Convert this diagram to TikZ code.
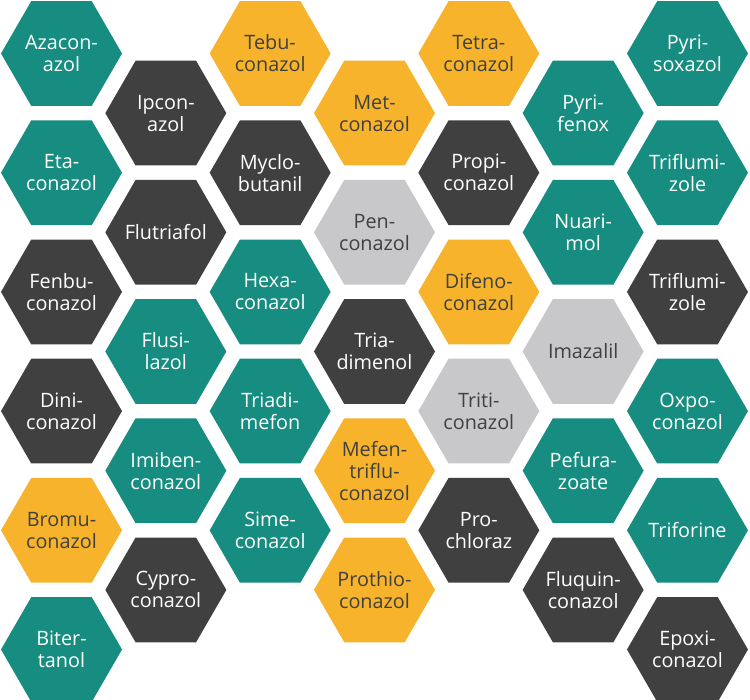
\documentclass[tikz,border=0pt]{standalone}
\usepackage{fontspec}
\setmainfont{Open Sans}
\usetikzlibrary{shapes.geometric}
\definecolor{hexteal}{RGB}{23,140,128}
\definecolor{hexdark}{RGB}{64,64,64}
\definecolor{hexyellow}{RGB}{246,179,43}
\definecolor{hexgray}{RGB}{200,200,202}
\tikzset{
  hexcell/.style={regular polygon, regular polygon sides=6, minimum size=121pt,
    inner sep=-10pt, align=center, font=\fontsize{19.8}{22}\selectfont},
  tealhex/.style={hexcell, fill=hexteal, text=white},
  darkhex/.style={hexcell, fill=hexdark, text=white},
  yellowhex/.style={hexcell, fill=hexyellow, text=hexdark},
  grayhex/.style={hexcell, fill=hexgray, text=hexdark}
}
\begin{document}
\begin{tikzpicture}
      \useasboundingbox (0,0) rectangle (750pt,-700pt);
      % column / half-row / kind / name / text
      \foreach \col/\row/\kind/\name/\txt in {
          0/0/tealhex/azaconazol/{Azacon-\\azol},
          0/2/tealhex/etaconazol/{Eta-\\conazol},
          0/4/darkhex/fenbuconazol/{Fenbu-\\conazol},
          0/6/darkhex/diniconazol/{Dini-\\conazol},
          0/8/yellowhex/bromuconazol/{Bromu-\\conazol},
          0/10/tealhex/bitertanol/{Biter-\\tanol},
          1/1/darkhex/ipconazol/{Ipcon-\\azol},
          1/3/darkhex/flutriafol/{Flutriafol},
          1/5/tealhex/flusilazol/{Flusi-\\lazol},
          1/7/tealhex/imibenconazol/{Imiben-\\conazol},
          1/9/darkhex/cyproconazol/{Cypro-\\conazol},
          2/0/yellowhex/tebuconazol/{Tebu-\\conazol},
          2/2/darkhex/myclobutanil/{Myclo-\\butanil},
          2/4/tealhex/hexaconazol/{Hexa-\\conazol},
          2/6/tealhex/triadimefon/{Triadi-\\mefon},
          2/8/tealhex/simeconazol/{Sime-\\conazol},
          3/1/yellowhex/metconazol/{Met-\\conazol},
          3/3/grayhex/penconazol/{Pen-\\conazol},
          3/5/darkhex/triadimenol/{Tria-\\dimenol},
          3/7/yellowhex/mefentrifluconazol/{Mefen-\\triflu-\\conazol},
          3/9/yellowhex/prothioconazol/{Prothio-\\conazol},
          4/0/yellowhex/tetraconazol/{Tetra-\\conazol},
          4/2/darkhex/propiconazol/{Propi-\\conazol},
          4/4/yellowhex/difenoconazol/{Difeno-\\conazol},
          4/6/grayhex/triticonazol/{Triti-\\conazol},
          4/8/darkhex/prochloraz/{Pro-\\chloraz},
          5/1/tealhex/pyrifenox/{Pyri-\\fenox},
          5/3/tealhex/nuarimol/{Nuari-\\mol},
          5/5/grayhex/imazalil/{Imazalil},
          5/7/tealhex/pefurazoate/{Pefura-\\zoate},
          5/9/darkhex/fluquinconazol/{Fluquin-\\conazol},
          6/0/tealhex/pyrisoxazol/{Pyri-\\soxazol},
          6/2/tealhex/triflumizole/{Triflumi-\\zole},
          6/4/darkhex/triflumizoleb/{Triflumi-\\zole},
          6/6/tealhex/oxpoconazol/{Oxpo-\\conazol},
          6/8/tealhex/triforine/{Triforine},
          6/10/darkhex/epoxiconazol/{Epoxi-\\conazol}}
        \node[\kind] (\name) at ({61.5pt+104.33pt*\col}, {-53.5pt-59.6pt*\row}) {\txt};
\end{tikzpicture}
\end{document}
